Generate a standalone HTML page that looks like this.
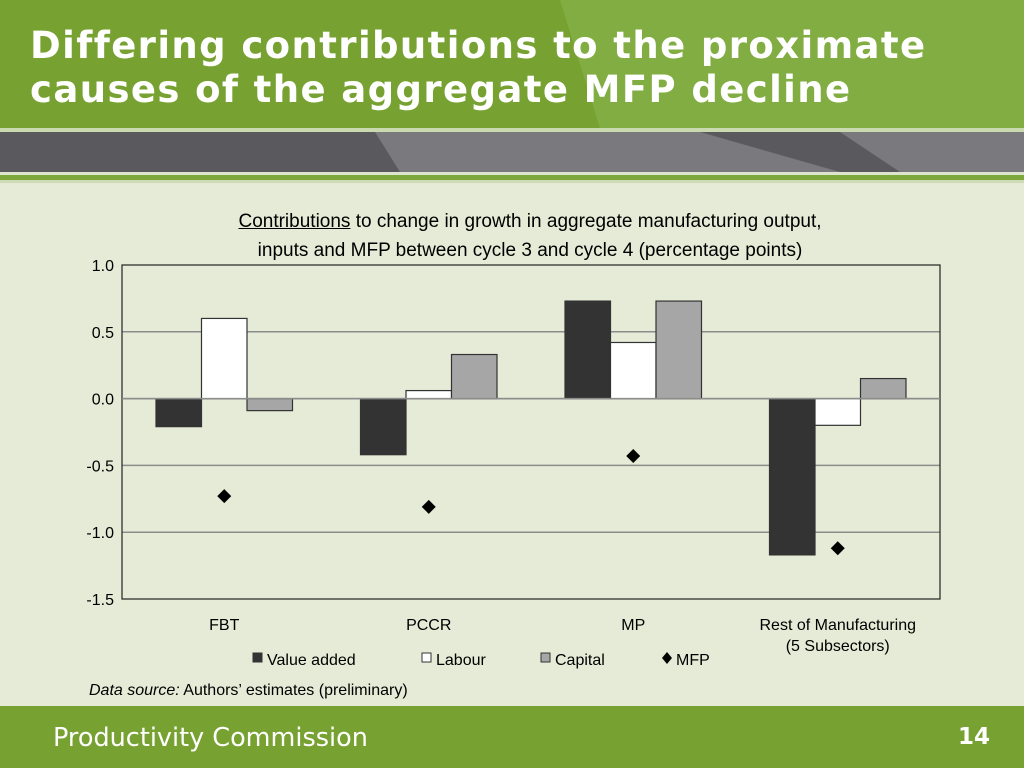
<!DOCTYPE html>
<html><head><meta charset="utf-8"><style>
body{margin:0;width:1024px;height:768px;overflow:hidden;background:#e5ebd6;font-family:"Liberation Sans",sans-serif;position:relative}
.abs{position:absolute}
</style></head><body>
<div class="abs" style="left:0;top:0;width:1024px;height:128px;background:#77a232"></div>
<svg class="abs" style="left:0;top:0" width="1024" height="185">
<path d="M560,0 L1024,0 L1024,128 L600,128 Z" fill="#8ab44c" opacity="0.6"/>
<rect x="0" y="128" width="1024" height="4" fill="#c9d9b0"/>
<rect x="0" y="132" width="1024" height="40" fill="#5a5a5e"/>
<path d="M375,132 L700,132 L840,172 L400,172 Z" fill="#7a7a7e"/>
<path d="M840,132 L1024,132 L1024,172 L900,172 Z" fill="#7a7a7e"/>
<rect x="0" y="172" width="1024" height="3" fill="#dde6cc"/>
<rect x="0" y="175" width="1024" height="5" fill="#7ea83c"/>
<rect x="0" y="180" width="1024" height="3" fill="#cddcb5"/>
</svg>
<div class="abs" style="left:30px;top:24px;color:#fff;font-weight:bold;font-size:37px;line-height:44px;letter-spacing:1.4px;font-family:'DejaVu Sans','Liberation Sans',sans-serif">Differing contributions to the proximate<br>causes of the aggregate MFP decline</div>
<div class="abs" style="left:100px;top:207px;width:860px;text-align:center;font-size:19px;line-height:29px;color:#000"><u>Contributions</u> to change in growth in aggregate manufacturing output,<br>inputs and MFP between cycle 3 and cycle 4 (percentage points)</div>
<svg class="abs" style="left:0;top:0" width="1024" height="706" id="chart"></svg>
<div class="abs" style="left:89px;top:682px;font-size:16px"><i>Data source:</i> Authors’ estimates (preliminary)</div>
<div class="abs" style="left:0;top:706px;width:1024px;height:62px;background:#77a232"></div>
<div class="abs" style="left:53px;top:723px;color:#fff;font-size:25.5px;font-family:'DejaVu Sans',sans-serif">Productivity Commission</div>
<div class="abs" style="left:958px;top:724px;color:#fff;font-size:23px;font-weight:bold;font-family:'DejaVu Sans',sans-serif">14</div>
<script>
const categories=["FBT","PCCR","MP","Rest of Manufacturing|(5 Subsectors)"];
const valueAdded=[-0.21,-0.42,0.73,-1.17];
const labour=[0.6,0.06,0.42,-0.2];
const capital=[-0.09,0.33,0.73,0.15];
const mfp=[-0.73,-0.81,-0.43,-1.12];
const yTicks=[1.0,0.5,0.0,-0.5,-1.0,-1.5];
const svg=document.getElementById('chart');const NS='http://www.w3.org/2000/svg';
const L=122,R=940,T=265,B=599,ymin=-1.5,ymax=1.0;
const y=v=>T+(ymax-v)/(ymax-ymin)*(B-T);
const cw=(R-L)/categories.length;const bw=45.5;
const x=i=>L+i*cw;
function mk(t,a){const e=document.createElementNS(NS,t);for(const k in a)e.setAttribute(k,a[k]);svg.appendChild(e);return e;}
yTicks.forEach(v=>{
 if(v!==1.0&&v!==-1.5){const g=mk('line',{x1:L,x2:R,y1:y(v),y2:y(v),stroke:'#8c8c8c','stroke-width':1.5});}
 const t=mk('text',{x:L-8,y:y(v)+6,'text-anchor':'end','font-size':16});t.textContent=v.toFixed(1);
 
});
const fr=mk('rect',{x:L,y:T,width:R-L,height:B-T,fill:'none',stroke:'#222','stroke-width':1.2});

const series=[[valueAdded,'#333333','bar-value-added'],[labour,'#ffffff','bar-labour'],[capital,'#a6a6a6','bar-capital']];
categories.forEach((c,i)=>{
 const x0=x(i)+(cw-3*bw)/2;
 series.forEach((s,j)=>{const v=s[0][i];const r=mk('rect',{x:x0+j*bw,y:Math.min(y(v),y(0)),width:bw,height:Math.abs(y(v)-y(0)),fill:s[1],stroke:'#333','stroke-width':1.2});
  });
 const cx=x(i)+cw/2,cy=y(mfp[i]);
 const d=mk('path',{d:`M${cx},${cy-7}L${cx+7},${cy}L${cx},${cy+7}L${cx-7},${cy}Z`,fill:'#000'});
 
 c.split('|').forEach((ln,k)=>{const t=mk('text',{x:cx,y:630+k*21,'text-anchor':'middle','font-size':16});t.textContent=ln;
  });
});
const z=mk('line',{x1:L,x2:R,y1:y(0),y2:y(0),stroke:'#8c8c8c','stroke-width':1.5});
const leg=[[253,'Value added','#333','rect'],[422,'Labour','#fff','rect'],[541,'Capital','#a6a6a6','rect'],[662,'MFP','#000','dia']];
leg.forEach(l=>{let m;
 if(l[3]==='rect')m=mk('rect',{x:l[0],y:653,width:9,height:9,fill:l[2],stroke:'#333'});
 else m=mk('path',{d:`M${l[0]+5},652L${l[0]+10},658L${l[0]+5},664L${l[0]},658Z`,fill:'#000'});
 
 const t=mk('text',{x:l[0]+14,y:665,'font-size':16});t.textContent=l[1];
 });
</script>
</body></html>
